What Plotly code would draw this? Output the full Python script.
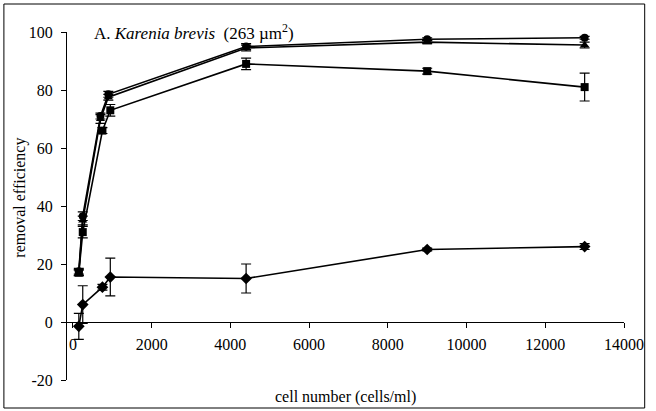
import plotly.graph_objects as go

# Data
x_cells = [150, 250, 700, 900, 4400, 9000, 13000]
x_cells_b = [150, 250, 750, 950, 4400, 9000, 13000]

circle_y = [17.5, 36.5, 71, 78.5, 95, 97.5, 98]
circle_err = [1, 1.5, 1, 1, 1, 0.5, 0.5]

triangle_y = [17, 35, 70, 77.5, 94.5, 96.5, 95.5]
triangle_err = [1, 1.5, 1.5, 1, 1, 0.5, 1]

square_y = [17, 31, 66, 73, 89, 86.5, 81]
square_err = [1, 2, 1, 2, 2, 1, 4.8]

diamond_y = [-1.5, 6, 12, 15.5, 15, 25, 26]
diamond_err = [4.5, 6.5, 1, 6.5, 5, 0.5, 1]

y_ticks = [-20, 0, 20, 40, 60, 80, 100]
y_tick_labels = ["-20", "0", "20", "40", "60", "80", "100"]
x_ticks = [0, 2000, 4000, 6000, 8000, 10000, 12000, 14000]
x_tick_labels = ["0", "2000", "4000", "6000", "8000", "10000", "12000", "14000"]

fig = go.Figure()

def add_series(xs, ys, errs, symbol, size):
    fig.add_trace(go.Scatter(
        x=xs, y=ys, mode="lines+markers",
        line=dict(color="black", width=1.6),
        marker=dict(symbol=symbol, size=size, color="black"),
        error_y=dict(type="data", array=errs, color="black", thickness=1.2, width=5),
        showlegend=False, cliponaxis=False,
    ))

add_series(x_cells_b, diamond_y, diamond_err, "diamond", 9)
add_series(x_cells_b, square_y, square_err, "square", 8)
add_series(x_cells, triangle_y, triangle_err, "triangle-up", 8)
add_series(x_cells, circle_y, circle_err, "circle", 8)

tick_font = dict(family="Liberation Serif", size=16, color="black")
label_font = dict(family="Liberation Serif", size=16, color="black")

fig.update_layout(
    width=656, height=411,
    margin=dict(l=67, r=24, t=32, b=31),
    paper_bgcolor="white", plot_bgcolor="white",
    font=tick_font,
    xaxis=dict(
        range=[-150, 14000], tickvals=x_ticks, ticktext=x_tick_labels,
        showgrid=False, zeroline=False, showline=True, linecolor="black", linewidth=1,
        ticks="outside", ticklen=5, tickcolor="black", ticklabelstandoff=3,
        anchor="free", position=20/120, tickfont=tick_font,
    ),
    yaxis=dict(
        range=[-20, 100], tickvals=y_ticks, ticktext=y_tick_labels,
        showgrid=False, zeroline=False, showline=True, linecolor="black", linewidth=1,
        ticks="outside", ticklen=5, tickcolor="black", ticklabelstandoff=5,
        tickfont=tick_font,
    ),
    annotations=[
        dict(text="A. <i>Karenia brevis</i>  (263 µm<sup>2</sup>)", xref="paper", yref="paper",
             x=(92 - 67) / 565, y=1.0, xanchor="left", yanchor="middle", showarrow=False,
             font=dict(family="Liberation Serif", size=17, color="black")),
        dict(text="cell number (cells/ml)", xref="paper", yref="paper",
             x=0.5, y=(380 - 397) / 348, xanchor="center", yanchor="middle", showarrow=False,
             font=label_font),
        dict(text="removal efficiency", xref="paper", yref="paper", textangle=-90,
             x=(19 - 67) / 565, y=(380 - 198) / 348, xanchor="center", yanchor="middle",
             showarrow=False, font=label_font),
    ],
    shapes=[
        dict(type="rect", xref="paper", yref="paper",
             x0=(3 - 67) / 565, x1=(653 - 67) / 565, y0=(380 - 408) / 348, y1=(380 - 4) / 348,
             line=dict(color="black", width=1)),
    ],
)

fig.write_html("out.html")
